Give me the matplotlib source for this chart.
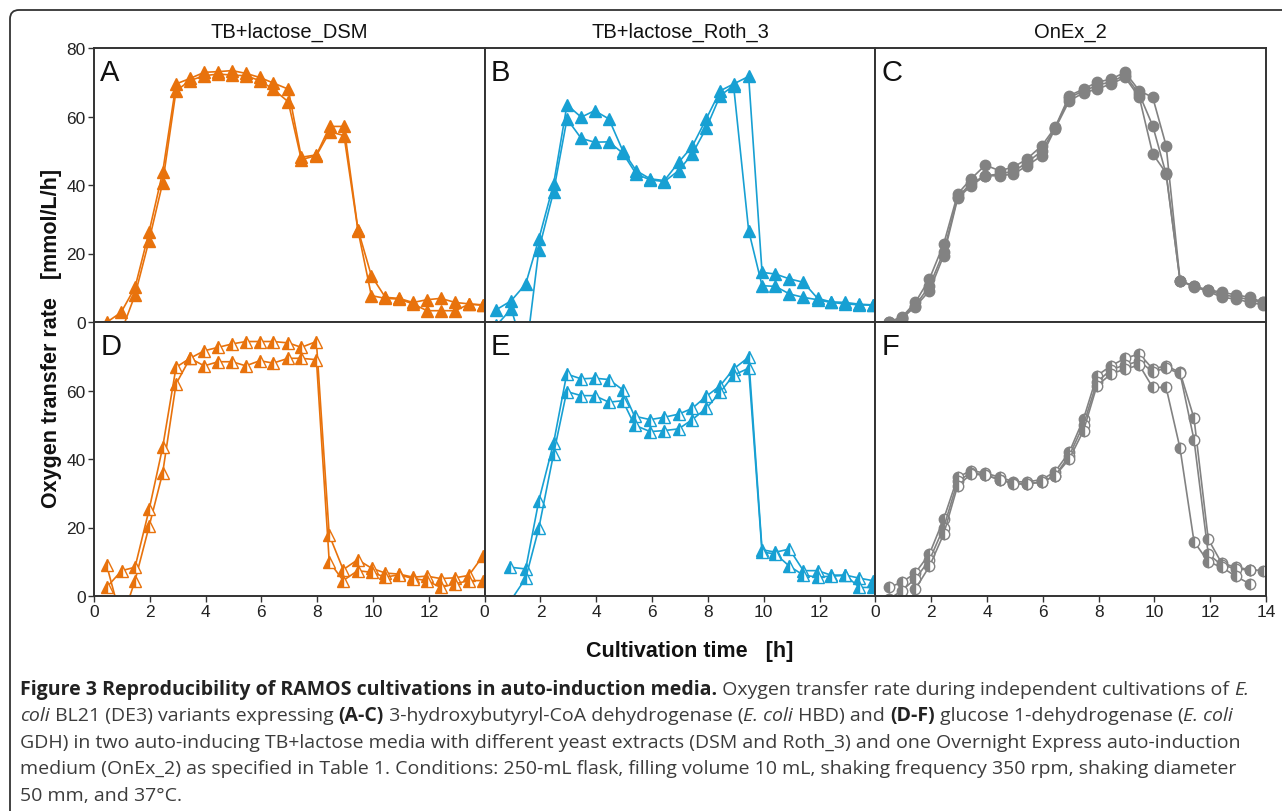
import numpy as np
import matplotlib
matplotlib.use('Agg')
import matplotlib.pyplot as plt
from matplotlib.patches import FancyBboxPatch
from matplotlib.transforms import IdentityTransform

nan = np.nan

# cultivation times [h] per panel
t_A = [0.47, 0.97, 1.47, 1.97, 2.46, 2.94, 3.44, 3.95, 4.45, 4.95, 5.44, 5.94, 6.42, 6.96,
       7.43, 7.97, 8.45, 8.96, 9.46, 9.94, 10.44, 10.93, 11.43, 11.93, 12.42, 12.95, 13.43, 13.93]
t_B = [0.42, 0.95, 1.47, 1.94, 2.47, 2.95, 3.46, 3.94, 4.45, 4.95, 5.43, 5.93, 6.44, 6.95,
       7.44, 7.94, 8.44, 8.92, 9.46, 9.94, 10.42, 10.92, 11.42, 11.93, 12.41, 12.93, 13.43, 13.9]
t_C = [0.48, 0.95, 1.43, 1.94, 2.45, 2.95, 3.43, 3.94, 4.45, 4.95, 5.43, 5.97, 6.44, 6.95,
       7.46, 7.94, 8.44, 8.95, 9.46, 9.94, 10.42, 10.92, 11.42, 11.93, 12.41, 12.93, 13.43, 13.9]
t_D = [0.45, 0.99, 1.47, 1.98, 2.46, 2.94, 3.44, 3.95, 4.45, 4.95, 5.44, 5.94, 6.42, 6.96,
       7.43, 7.97, 8.43, 8.93, 9.45, 9.95, 10.44, 10.93, 11.43, 11.93, 12.42, 12.92, 13.43, 13.93]
t_E = [0.92, 1.47, 1.94, 2.47, 2.94, 3.46, 3.94, 4.45, 4.95, 5.37, 5.93, 6.44, 6.95, 7.44,
       7.94, 8.44, 8.92, 9.46, 9.94, 10.42, 10.92, 11.42, 11.93, 12.41, 12.93, 13.43, 13.9]
t_F = t_C

# OTR [mmol/L/h], replicate cultivations
A1 = [0.0, 2.8, 10.1, 26.2, 43.7, 69.5, 71.1, 72.9, 73.1, 73.4, 72.6, 71.4, 69.8, 68.0,
      48.1, 48.8, 57.1, 57.1, 27.0, 13.5, 7.2, 6.9, 5.7, 6.5, 6.9, 5.7, 5.3, 5.0]
A2 = [-3.0, -3.0, 7.9, 23.7, 40.6, 67.5, 70.5, 71.9, 72.4, 72.1, 71.9, 70.5, 68.0, 64.3,
      47.4, 48.6, 55.6, 54.4, 26.7, 7.7, 6.9, 6.7, 5.3, 3.3, 3.3, 3.3, 5.2, 4.9]

B1 = [3.6, 6.2, 11.1, 24.2, 40.3, 63.4, 59.8, 61.7, 59.3, 50.0, 44.2, 41.8, 41.3, 46.6,
      51.3, 59.3, 67.5, 69.5, 71.7, 14.5, 14.0, 12.6, 11.6, 6.9, 5.9, 5.7, 5.2, 5.0]
B2 = [-1.0, 3.8, -10.0, 21.1, 38.1, 59.3, 53.6, 52.5, 52.6, 49.3, 43.2, 41.5, 41.0, 44.2,
      49.1, 56.6, 66.1, 69.0, 26.7, 10.6, 10.4, 8.2, 7.2, 6.5, 5.7, 5.3, 5.0, 4.9]

C1 = [0.1, 1.4, 5.7, 12.6, 22.8, 37.4, 41.8, 45.8, 44.2, 45.2, 47.6, 51.5, 56.8, 66.1,
      68.0, 70.0, 70.9, 72.9, 67.5, 65.6, 51.5, 12.1, 10.4, 9.4, 8.7, 7.9, 7.2, 5.7]
C2 = [0.0, 1.2, 4.8, 10.5, 20.5, 36.5, 40.5, 42.7, 43.2, 44.0, 46.5, 50.0, 56.6, 65.5,
      67.5, 69.0, 70.2, 72.0, 66.5, 57.3, 43.2, 12.1, 10.4, 9.2, 8.0, 7.3, 6.5, 5.7]
C3 = [-0.5, 1.0, 4.5, 9.1, 19.4, 36.1, 39.8, 42.7, 42.7, 43.2, 45.6, 48.6, 56.4, 64.6,
      66.9, 68.0, 69.5, 71.4, 65.6, 49.1, 43.5, 12.1, 10.2, 9.0, 7.2, 6.7, 5.7, 5.0]

D1 = [9.1, -7.3, 4.5, 20.5, 35.9, 61.9, 69.4, 71.6, 72.6, 73.6, 74.3, 74.3, 74.3, 73.9,
      72.6, 74.3, 17.8, 7.7, 10.6, 8.1, 6.7, 6.4, 5.5, 5.8, 5.1, 5.3, 6.0, 11.6]
D2 = [2.5, 7.4, 8.4, 25.4, 43.4, 66.8, 69.4, 67.2, 68.4, 68.4, 67.2, 68.7, 68.0, 69.4,
      69.4, 69.0, 10.0, 4.5, 7.4, 6.9, 5.5, 6.2, 5.1, 4.5, 2.5, 3.5, 4.5, 4.5]

E1 = [8.4, 7.9, 27.8, 44.7, 64.8, 63.4, 63.6, 63.2, 60.2, 52.5, 51.5, 52.2, 53.1, 54.8,
      58.3, 61.4, 66.3, 69.7, 13.5, 12.8, 13.7, 7.4, 7.4, 6.1, 6.1, 5.2, 4.5]
E2 = [-1.5, 5.2, 19.8, 41.5, 59.7, 58.5, 58.5, 56.6, 57.0, 49.9, 48.0, 48.3, 48.8, 51.5,
      54.8, 59.5, 64.5, 66.5, 12.8, 12.3, 8.7, 6.1, 5.5, 5.8, 6.0, 2.5, 2.5]

F1 = [2.5, 4.0, 6.7, 12.3, 22.5, 34.7, 36.6, 35.9, 34.7, 33.4, 33.3, 34.0, 36.3, 42.0,
      51.7, 64.3, 67.2, 69.4, 70.7, 66.3, 67.2, 65.3, 51.9, 16.6, 9.6, 8.4, 7.7, 7.4]
F2 = [-1.0, 1.6, 5.0, 10.5, 20.0, 33.5, 36.0, 35.3, 34.0, 33.0, 32.7, 33.3, 35.1, 41.0,
      50.0, 62.5, 66.0, 67.5, 68.5, 65.5, 66.5, 65.0, 45.6, 12.3, 9.0, 8.0, 7.5, nan]
F3 = [nan, -8.5, 2.0, 8.7, 18.1, 32.2, 35.6, 35.3, 34.0, 32.7, 32.7, 33.3, 35.1, 40.0,
      48.3, 61.4, 64.8, 66.3, 67.4, 60.9, 60.9, 43.1, 15.9, 10.0, 8.4, 5.7, 3.5, nan]

titles = ['TB+lactose_DSM', 'TB+lactose_Roth_3', 'OnEx_2']
letters = ['A', 'B', 'C', 'D', 'E', 'F']
panels = [(t_A, [A1, A2]), (t_B, [B1, B2]), (t_C, [C1, C2, C3]),
          (t_D, [D1, D2]), (t_E, [E1, E2]), (t_F, [F1, F2, F3])]
colors = ['#E8720C', '#17A0D3', '#828282']
marks = ['^', '^', 'o']

plt.rcParams['font.family'] = ['Liberation Sans', 'DejaVu Sans']

W, H = 1282, 812
fig = plt.figure(figsize=(W / 100, H / 100), dpi=100)

# frame round the figure (top and left edges only)
frame = FancyBboxPatch((10, -100), 1500, 901, boxstyle='round,pad=0,rounding_size=9',
                       transform=IdentityTransform(), fill=False, ec='#333333', lw=1.3)
fig.patches.append(frame)

x0, pw = 94, 390.67
rows_top = [49, 323]
ph = 274
spine_c = '#333333'

for i, (t, series) in enumerate(panels):
    r, c = divmod(i, 3)
    ax = fig.add_axes([(x0 + c * pw) / W, 1 - (rows_top[r] + ph) / H, pw / W, ph / H])
    col = colors[c]
    for s in series:
        if r == 0:
            ax.plot(t, s, '-', color=col, lw=1.2, marker=marks[c], ms=8 if c < 2 else 7.5,
                    mfc=col, mec=col, mew=1.0)
        else:
            ax.plot(t, s, '-', color=col, lw=1.2, marker=marks[c], ms=8 if c < 2 else 7.5,
                    fillstyle='left', mfc=col, mfcalt='white', mec=col, mew=1.0)
    ax.set_xlim(0, 14)
    ax.set_ylim(0, 80)
    for sp in ax.spines.values():
        sp.set_color(spine_c)
        sp.set_linewidth(1.4)
    ax.tick_params(direction='out', length=4, width=1, color=spine_c, labelsize=12.5,
                   labelcolor='#222222', pad=2)
    if c == 0:
        ax.set_yticks([0, 20, 40, 60, 80] if r == 0 else [0, 20, 40, 60])
    else:
        ax.set_yticks([])
    if r == 1:
        ax.set_xticks(list(range(0, 13, 2)) if c < 2 else list(range(0, 15, 2)))
    else:
        ax.set_xticks([])
        ax.set_title(titles[c], fontsize=14.5, pad=8, color='#111111')
    ax.text(0.016, 0.965, letters[i], transform=ax.transAxes, ha='left', va='top',
            fontsize=21, color='#111111')

fig.text(52 / W, 1 - 338 / H, 'Oxygen transfer rate   [mmol/L/h]', rotation=90,
         ha='center', va='center', fontsize=15.5, fontweight='bold', color='#111111')
fig.text(690 / W, 1 - 652 / H, 'Cultivation time   [h]', ha='center', va='center',
         fontsize=15.5, fontweight='bold', color='#111111')

# caption with mixed styles
cap_lines = [
    [('Figure 3 Reproducibility of RAMOS cultivations in auto-induction media.', 'b'),
     (' Oxygen transfer rate during independent cultivations of ', 'n'), ('E.', 'i')],
    [('coli', 'i'), (' BL21 (DE3) variants expressing ', 'n'), ('(A-C)', 'b'),
     (' 3-hydroxybutyryl-CoA dehydrogenase (', 'n'), ('E. coli', 'i'), (' HBD) and ', 'n'),
     ('(D-F)', 'b'), (' glucose 1-dehydrogenase (', 'n'), ('E. coli', 'i')],
    [('GDH) in two auto-inducing TB+lactose media with different yeast extracts (DSM and '
      'Roth_3) and one Overnight Express auto-induction', 'n')],
    [('medium (OnEx_2) as specified in Table 1. Conditions: 250-mL flask, filling volume '
      '10 mL, shaking frequency 350 rpm, shaking diameter', 'n')],
    [('50 mm, and 37°C.', 'n')],
]
cap_base = [695, 721, 748, 774, 801]
cap_fs = 14.0
cap_font = ['Open Sans', 'DejaVu Sans']

renderer = fig.canvas.get_renderer()


def text_width(s, style):
    kw = dict(fontsize=cap_fs, family=cap_font,
              fontweight='bold' if style == 'b' else 'normal',
              fontstyle='italic' if style == 'i' else 'normal')
    a = fig.text(0, 0, '|' + s + '|', transform=IdentityTransform(), **kw)
    b = fig.text(0, 0, '||', transform=IdentityTransform(), **kw)
    w = a.get_window_extent(renderer).width - b.get_window_extent(renderer).width
    a.remove()
    b.remove()
    return w


for runs, yb in zip(cap_lines, cap_base):
    x = 20
    for s, style in runs:
        fig.text(x, H - yb, s, transform=IdentityTransform(), ha='left', va='baseline',
                 fontsize=cap_fs, family=cap_font, color='#222222' if style == 'b' else '#3c3c3c',
                 fontweight='bold' if style == 'b' else 'normal',
                 fontstyle='italic' if style == 'i' else 'normal')
        x += text_width(s, style)

fig.savefig('out.png', dpi=100)
